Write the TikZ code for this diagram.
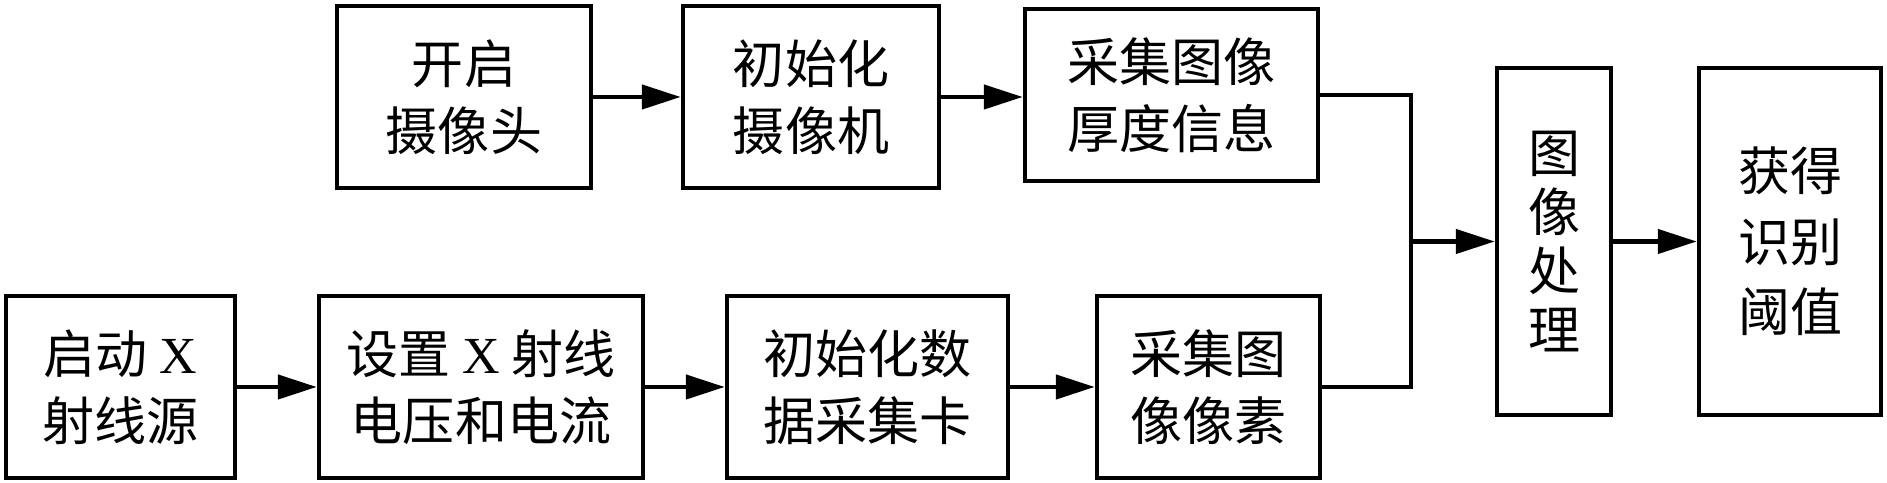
\documentclass[tikz,border=0pt]{standalone}
\usepackage{fontspec}
\setmainfont{Liberation Serif}
\newfontfamily\cjk{Noto Sans CJK SC}
\usepackage{tikz}
\usetikzlibrary{arrows.meta}

\begin{document}
\begin{tikzpicture}[x=0.1mm,y=-0.1mm,
    box/.style={draw,line width=0.45mm,inner sep=0pt,align=center,
      font=\cjk\fontsize{14.8pt}{19pt}\selectfont},
    flow/.style={line width=0.45mm,-{Triangle[length=3.9mm,width=2.4mm]}},
    link/.style={line width=0.45mm}]
    \useasboundingbox (0,0) rectangle (1887,483);
    % top row: camera
    \node[box,minimum width=25.4mm,minimum height=18.2mm] (cam) at (464,97) {开启\\摄像头};
    \node[box,minimum width=25.6mm,minimum height=18.2mm] (initcam) at (811,97) {初始化\\摄像机};
    \node[box,minimum width=29.3mm,minimum height=17.2mm] (thick) at (1171.5,95) {采集图像\\厚度信息};
    % bottom row: X-ray
    \node[box,minimum width=22.9mm,minimum height=18.2mm] (xray) at (120.5,387) {启动 {\rmfamily X}\\射线源};
    \node[box,minimum width=32.4mm,minimum height=18.2mm] (volt) at (481,387) {设置 {\rmfamily X} 射线\\电压和电流};
    \node[box,minimum width=28.1mm,minimum height=18.2mm] (daq) at (867.5,387) {初始化数\\据采集卡};
    \node[box,minimum width=22.3mm,minimum height=18.2mm] (pix) at (1208.5,387) {采集图\\像像素};
    % right side
    \node[box,minimum width=11.4mm,minimum height=34.7mm,
      font=\cjk\fontsize{14.8pt}{16.8pt}\selectfont] (proc) at (1554,241.5) {图\\像\\处\\理};
    \node[box,minimum width=18.2mm,minimum height=34.7mm,
      font=\cjk\fontsize{14.8pt}{20pt}\selectfont] (thr) at (1790,241.5) {获得\\识别\\阈值};
    \coordinate (jn) at (1411,241.5);

    \draw[flow] (cam) -- (initcam);
    \draw[flow] (initcam.east) -- (initcam.east -| thick.west);
    \draw[flow] (xray) -- (volt);
    \draw[flow] (volt) -- (daq);
    \draw[flow] (daq) -- (pix);
    \draw[link] (thick.east) -| (jn) |- (pix.east);
    \draw[flow] (jn) -- (proc);
    \draw[flow] (proc) -- (thr);
\end{tikzpicture}
\end{document}
